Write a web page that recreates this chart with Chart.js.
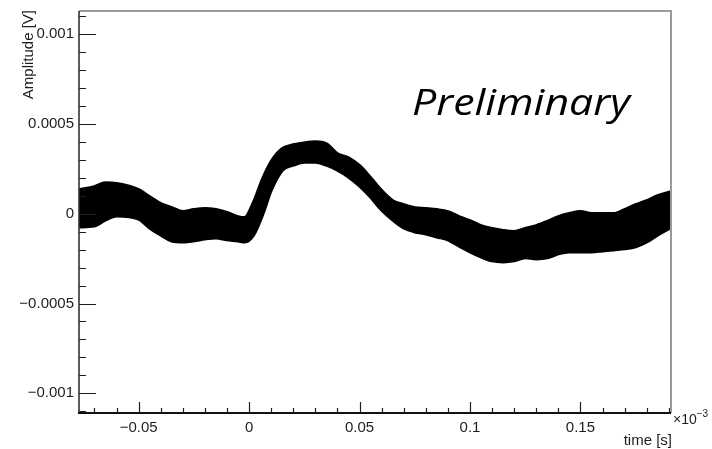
<!DOCTYPE html>
<html>
<head>
<meta charset="utf-8">
<script src="https://cdn.jsdelivr.net/npm/chart.js@4"></script>
<style>
  html, body { margin: 0; padding: 0; background: #fff; }
  #wrap { width: 712px; height: 449px; }
</style>
</head>
<body>
<div id="wrap"><canvas id="c" width="712" height="449"></canvas></div>
<script>
// time axis in units of 1e-3 s
const TIME = [-0.077, -0.07, -0.065, -0.06, -0.05, -0.045, -0.04, -0.035, -0.03, -0.025,
  -0.02, -0.015, -0.01, -0.005, -0.002, 0.002, 0.006, 0.01, 0.015, 0.02,
  0.025, 0.03, 0.035, 0.04, 0.045, 0.05, 0.055, 0.06, 0.065, 0.07,
  0.075, 0.08, 0.085, 0.09, 0.095, 0.1, 0.105, 0.11, 0.115, 0.12,
  0.125, 0.13, 0.135, 0.14, 0.145, 0.15, 0.155, 0.16, 0.165, 0.17,
  0.175, 0.18, 0.185, 0.191];

// upper and lower envelope of the overlaid traces, in volts
const UPPER = [1.33e-4, 1.50e-4, 1.72e-4, 1.67e-4, 1.33e-4, 0.94e-4, 0.56e-4, 0.33e-4, 0.11e-4, 0.22e-4,
  0.28e-4, 0.22e-4, 0.06e-4, -0.17e-4, -0.22e-4, 0.61e-4, 1.89e-4, 2.89e-4, 3.61e-4, 3.83e-4,
  3.94e-4, 4.00e-4, 3.89e-4, 3.33e-4, 3.11e-4, 2.67e-4, 2.00e-4, 1.28e-4, 0.72e-4, 0.50e-4,
  0.33e-4, 0.28e-4, 0.22e-4, 0.11e-4, -0.17e-4, -0.39e-4, -0.67e-4, -0.83e-4, -0.94e-4, -1.00e-4,
  -0.83e-4, -0.67e-4, -0.44e-4, -0.17e-4, 0.00e-4, 0.11e-4, 0.00e-4, 0.00e-4, 0.00e-4, 0.22e-4,
  0.50e-4, 0.72e-4, 1.00e-4, 1.22e-4];
const LOWER = [-0.72e-4, -0.67e-4, -0.33e-4, -0.11e-4, -0.28e-4, -0.78e-4, -1.17e-4, -1.50e-4, -1.56e-4, -1.50e-4,
  -1.39e-4, -1.33e-4, -1.44e-4, -1.50e-4, -1.56e-4, -1.17e-4, -0.06e-4, 1.33e-4, 2.44e-4, 2.72e-4,
  2.89e-4, 2.89e-4, 2.72e-4, 2.44e-4, 2.06e-4, 1.56e-4, 0.94e-4, 0.22e-4, -0.33e-4, -0.78e-4,
  -1.00e-4, -1.11e-4, -1.28e-4, -1.44e-4, -1.78e-4, -2.11e-4, -2.39e-4, -2.61e-4, -2.67e-4, -2.61e-4,
  -2.44e-4, -2.50e-4, -2.44e-4, -2.22e-4, -2.11e-4, -2.11e-4, -2.11e-4, -2.06e-4, -2.00e-4, -1.94e-4,
  -1.83e-4, -1.56e-4, -1.17e-4, -0.75e-4];

// axis ticks and their labels
const X_TICKS = [-0.05, 0, 0.05, 0.1, 0.15];
const X_LABELS = ['\u22120.05', '0', '0.05', '0.1', '0.15'];
const Y_TICKS = [-0.001, -0.0005, 0, 0.0005, 0.001];
const Y_LABELS = ['\u22120.001', '\u22120.0005', '0', '0.0005', '0.001'];

const X_RANGE = [-0.077, 0.191];
const Y_RANGE = [-0.00111, 0.00113];

const FONT = '"Liberation Sans", Arial, Helvetica, sans-serif';
const INK = '#1e1e1e';

// frame, inward ticks and free-standing texts drawn in ROOT style
const rootFrame = {
  id: 'rootFrame',
  afterDatasetsDraw(chart) {
    const { ctx, chartArea: a, scales: { x, y } } = chart;
    ctx.save();
    ctx.strokeStyle = INK;
    ctx.lineWidth = 1.2;
    ctx.beginPath();
    // x ticks: minor every 0.01, major on labelled values
    for (let i = -7; i <= 19; i++) {
      const v = i / 100;
      const px = Math.round(x.getPixelForValue(v)) + 0.5;
      const major = X_TICKS.some(t => Math.abs(t - v) < 1e-9);
      const len = major ? 11 : 5;
      ctx.moveTo(px, a.bottom);
      ctx.lineTo(px, a.bottom - len);
    }
    // y ticks: minor every 0.0001
    for (let i = -11; i <= 11; i++) {
      const v = i / 10000;
      const py = Math.round(y.getPixelForValue(v)) + 0.5;
      const major = Y_TICKS.some(t => Math.abs(t - v) < 1e-12);
      const len = major ? 17 : 7;
      ctx.moveTo(a.left, py);
      ctx.lineTo(a.left + len, py);
    }
    ctx.stroke();

    // top and right frame edges
    ctx.strokeStyle = '#9a9a9a';
    ctx.lineWidth = 2;
    ctx.beginPath();
    ctx.moveTo(a.left, a.top);
    ctx.lineTo(a.right, a.top);
    ctx.lineTo(a.right, a.bottom);
    ctx.stroke();

    // left and bottom axes
    ctx.strokeStyle = '#333';
    ctx.lineWidth = 1.6;
    ctx.beginPath();
    ctx.moveTo(a.left, a.top);
    ctx.lineTo(a.left, a.bottom);
    ctx.stroke();
    ctx.strokeStyle = '#111';
    ctx.lineWidth = 2.2;
    ctx.beginPath();
    ctx.moveTo(a.left - 1, a.bottom);
    ctx.lineTo(a.right, a.bottom);
    ctx.stroke();
    ctx.restore();
  },
  afterDraw(chart) {
    const { ctx, chartArea: a } = chart;
    ctx.save();
    ctx.fillStyle = INK;

    // y axis title, aligned to the top end
    ctx.save();
    ctx.translate(33, 10);
    ctx.rotate(-Math.PI / 2);
    ctx.font = '15px ' + FONT;
    ctx.textAlign = 'right';
    ctx.textBaseline = 'alphabetic';
    ctx.fillText('Amplitude [V]', 0, 0);
    ctx.restore();

    // x axis title, aligned to the right end
    ctx.font = '15px ' + FONT;
    ctx.textAlign = 'right';
    ctx.textBaseline = 'alphabetic';
    ctx.fillText('time [s]', a.right + 1, 445);

    // exponent of the time axis
    ctx.textAlign = 'left';
    ctx.font = '14px ' + FONT;
    ctx.fillText('\u00d710', a.right + 2, 424);
    const w = ctx.measureText('\u00d710').width;
    ctx.font = '10px ' + FONT;
    ctx.fillText('\u22123', a.right + 2 + w, 417);

    // watermark, widened to its full span
    ctx.fillStyle = '#000';
    const text = 'Preliminary';
    ctx.font = 'italic 36px "Open Sans", Lato, sans-serif';
    const mw = ctx.measureText(text).width;
    const sx = 218 / mw;
    ctx.translate(412, 115);
    ctx.scale(sx, 1);
    ctx.fillText(text, 0, 0);
    ctx.restore();
  }
};

const band = {
  pointRadius: 0,
  borderColor: '#000',
  backgroundColor: '#000',
  borderWidth: 3.5,
  tension: 0.35,
  cubicInterpolationMode: 'monotone'
};

function build() {
  new Chart(document.getElementById('c'), {
    type: 'line',
    data: {
      datasets: [
        Object.assign({ label: 'upper', data: TIME.map((t, i) => ({ x: t, y: UPPER[i] })), fill: '+1' }, band),
        Object.assign({ label: 'lower', data: TIME.map((t, i) => ({ x: t, y: LOWER[i] })), fill: false }, band)
      ]
    },
    options: {
      responsive: false,
      animation: false,
      events: [],
      layout: { padding: { left: 0, right: 41, top: 11, bottom: 0 } },
      plugins: { legend: { display: false }, tooltip: { enabled: false } },
      scales: {
        x: {
          type: 'linear',
          min: X_RANGE[0],
          max: X_RANGE[1],
          grid: { display: false, drawTicks: false },
          border: { display: false },
          afterBuildTicks: s => { s.ticks = X_TICKS.map(v => ({ value: v })); },
          afterFit: s => { s.height = 36; s.paddingLeft = 0; s.paddingRight = 0; },
          ticks: {
            autoSkip: false,
            maxRotation: 0,
            padding: 6,
            color: INK,
            font: { family: FONT, size: 15 },
            callback: v => X_LABELS[X_TICKS.findIndex(t => Math.abs(t - v) < 1e-9)]
          }
        },
        y: {
          type: 'linear',
          min: Y_RANGE[0],
          max: Y_RANGE[1],
          grid: { display: false, drawTicks: false },
          border: { display: false },
          afterBuildTicks: s => { s.ticks = Y_TICKS.map(v => ({ value: v })); },
          afterFit: s => { s.width = 79; s.paddingTop = 0; s.paddingBottom = 0; },
          ticks: {
            autoSkip: false,
            padding: 5,
            color: INK,
            font: { family: FONT, size: 15 },
            callback: v => Y_LABELS[Y_TICKS.findIndex(t => Math.abs(t - v) < 1e-12)]
          }
        }
      }
    },
    plugins: [rootFrame]
  });
}

if (document.fonts && document.fonts.load) {
  Promise.all([
    document.fonts.load('italic 36px "Open Sans"'),
    document.fonts.load('15px "Liberation Sans"')
  ]).then(build, build);
} else {
  build();
}
</script>
</body>
</html>
